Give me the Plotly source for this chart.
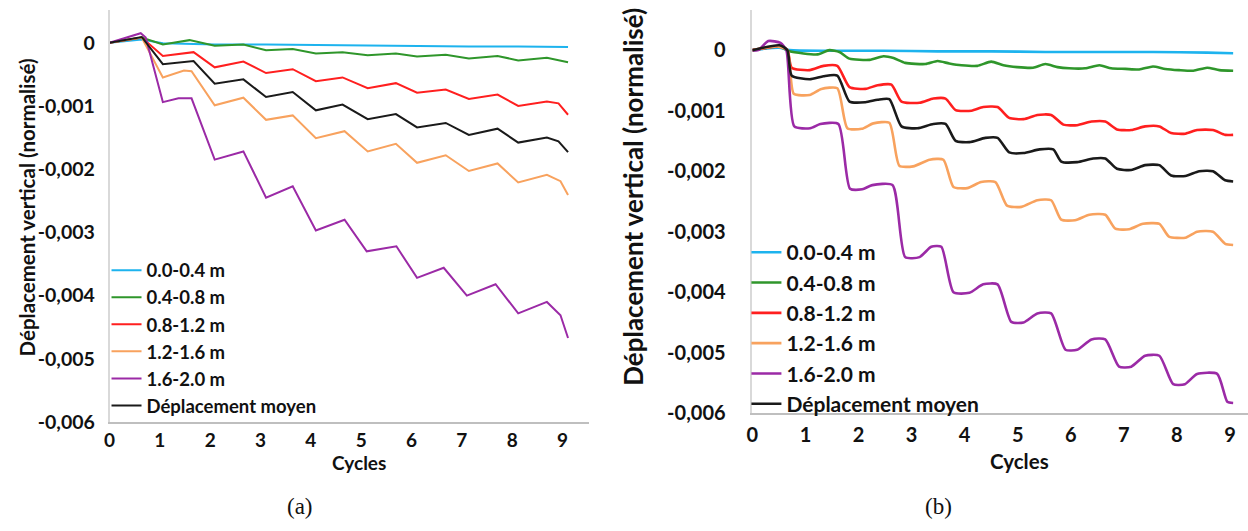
import plotly.graph_objects as go

# ---------------- data: panel (a) ----------------
a_cyan_x = [0, 0.64, 1.06, 2.09, 3.11, 4.10, 5.13, 6.11, 7.14, 8.12, 9.11]
a_cyan_y = [0, 0.00005, -0.00001, -0.00003, -0.00003, -0.00004, -0.00005, -0.00005, -0.00006, -0.00006, -0.00007]

a_green_x = [0, 0.64, 1.06, 1.59, 2.09, 2.66, 3.11, 3.64, 4.10, 4.63, 5.13, 5.69, 6.11, 6.68, 7.14, 7.71, 8.12, 8.69, 9.11]
a_green_y = [0, 0.00008, -0.00003, 0.00004, -0.00005, -0.00003, -0.00012, -0.00010, -0.00017, -0.00015,
             -0.00020, -0.00017, -0.00022, -0.00019, -0.00025, -0.00021, -0.00028, -0.00024, -0.00031]

a_red_x = [0, 0.64, 1.06, 1.67, 2.09, 2.66, 3.11, 3.64, 4.10, 4.63, 5.13, 5.69, 6.11, 6.68, 7.14, 7.71, 8.12, 8.69, 8.92, 9.11]
a_red_y = [0, 0.00008, -0.00021, -0.00015, -0.00039, -0.00030, -0.00048, -0.00042, -0.00061, -0.00055,
           -0.00072, -0.00064, -0.00079, -0.00074, -0.00089, -0.00082, -0.00100, -0.00093, -0.00096, -0.00114]

a_orange_x = [0, 0.64, 1.06, 1.48, 1.63, 2.09, 2.66, 3.11, 3.64, 4.10, 4.67, 5.13, 5.69, 6.11, 6.68, 7.14, 7.71, 8.12, 8.69, 8.96, 9.11]
a_orange_y = [0, 0.00008, -0.00055, -0.00044, -0.00045, -0.00099, -0.00087, -0.00122, -0.00115, -0.00151, -0.00140,
              -0.00172, -0.00160, -0.00190, -0.00178, -0.00203, -0.00191, -0.00221, -0.00209, -0.00219, -0.00241]

a_purple_x = [0, 0.62, 0.72, 1.06, 1.37, 1.63, 2.09, 2.66, 3.11, 3.64, 4.10, 4.67, 5.11, 5.70, 6.11, 6.64,
              7.10, 7.67, 8.12, 8.69, 8.96, 9.11]
a_purple_y = [0, 0.00015, 0.00008, -0.00094, -0.00088, -0.00088, -0.00185, -0.00172, -0.00245, -0.00227,
              -0.00297, -0.00280, -0.00330, -0.00322, -0.00372, -0.00356, -0.00400, -0.00382, -0.00428,
              -0.00410, -0.00431, -0.00467]

a_black_x = [0, 0.64, 1.06, 1.67, 2.09, 2.66, 3.11, 3.64, 4.10, 4.63, 5.13, 5.69, 6.11, 6.68, 7.14, 7.71, 8.12, 8.69, 8.92, 9.11]
a_black_y = [0, 0.00009, -0.00034, -0.00029, -0.00065, -0.00058, -0.00086, -0.00078, -0.00107, -0.00098,
             -0.00121, -0.00113, -0.00134, -0.00127, -0.00146, -0.00136, -0.00158, -0.00150, -0.00156, -0.00173]

# ---------------- data: panel (b) ----------------
b_cyan_x = [0, 0.50, 0.70, 1.45, 2.47, 3.49, 4.50, 5.52, 6.54, 7.55, 8.57, 9.06]
b_cyan_y = [0, 0.00004, 0, -0.00001, -0.00001, -0.00002, -0.00002, -0.00003, -0.00003, -0.00003, -0.00004, -0.00005]

b_green_x = [0, 0.51, 0.70, 1.23, 1.45, 1.64, 1.83, 2.21, 2.47, 2.66, 2.88, 3.26, 3.49, 3.71, 3.94, 4.24,
             4.50, 4.73, 4.99, 5.29, 5.52, 5.75, 5.97, 6.27, 6.54, 6.76, 7.03, 7.29, 7.55, 7.78, 8.04,
             8.31, 8.57, 8.80, 9.06]
b_green_y = [0, 0.00006, -0.00002, -0.00007, 0, -0.00003, -0.00014, -0.00016, -0.00010, -0.00013, -0.00021,
             -0.00023, -0.00018, -0.00022, -0.00025, -0.00026, -0.00019, -0.00025, -0.00028, -0.00029,
             -0.00023, -0.00028, -0.00030, -0.00030, -0.00025, -0.00030, -0.00031, -0.00032, -0.00027,
             -0.00031, -0.00033, -0.00034, -0.00029, -0.00033, -0.00034]

b_red_x = [0, 0.51, 0.66, 0.74, 1.08, 1.34, 1.60, 1.83, 2.13, 2.36, 2.62, 2.81, 3.15, 3.41, 3.64, 3.83,
           4.13, 4.35, 4.62, 4.84, 5.11, 5.37, 5.63, 5.86, 6.12, 6.39, 6.65, 6.87, 7.14, 7.40, 7.67,
           7.89, 8.16, 8.38, 8.68, 8.91, 9.06]
b_red_y = [0, 0.00006, 0, -0.00029, -0.00033, -0.00026, -0.00026, -0.00061, -0.00064, -0.00058, -0.00057,
           -0.00085, -0.00087, -0.00080, -0.00080, -0.00099, -0.00100, -0.00094, -0.00094, -0.00112,
           -0.00114, -0.00107, -0.00107, -0.00123, -0.00124, -0.00118, -0.00118, -0.00131, -0.00132,
           -0.00126, -0.00126, -0.00137, -0.00138, -0.00132, -0.00132, -0.00140, -0.00140]

b_orange_x = [0, 0.47, 0.66, 0.78, 1.08, 1.30, 1.60, 1.79, 2.06, 2.28, 2.58, 2.77, 3.03, 3.34, 3.60, 3.79,
              4.05, 4.31, 4.58, 4.80, 5.07, 5.37, 5.63, 5.82, 6.08, 6.35, 6.65, 6.84, 7.10, 7.36, 7.67,
              7.85, 8.16, 8.38, 8.68, 8.91, 9.06]
b_orange_y = [0, 0.00006, 0, -0.00072, -0.00074, -0.00064, -0.00063, -0.00129, -0.00130, -0.00121, -0.00120,
              -0.00191, -0.00192, -0.00181, -0.00181, -0.00226, -0.00228, -0.00218, -0.00218, -0.00257,
              -0.00259, -0.00248, -0.00248, -0.00280, -0.00281, -0.00272, -0.00272, -0.00295, -0.00296,
              -0.00287, -0.00287, -0.00308, -0.00310, -0.00300, -0.00300, -0.00320, -0.00322]

b_purple_x = [0, 0.11, 0.30, 0.53, 0.64, 0.79, 1.09, 1.28, 1.62, 1.84, 2.07, 2.26, 2.64, 2.88, 3.15, 3.37,
              3.56, 3.79, 4.09, 4.35, 4.62, 4.88, 5.11, 5.37, 5.63, 5.90, 6.12, 6.39, 6.65, 6.91, 7.14,
              7.40, 7.67, 7.93, 8.15, 8.38, 8.76, 8.95, 9.06]
b_purple_y = [0, 0, 0.00015, 0.00012, 0, -0.00126, -0.00129, -0.00122, -0.00122, -0.00229, -0.00230,
              -0.00223, -0.00223, -0.00342, -0.00342, -0.00325, -0.00325, -0.00400, -0.00401, -0.00387,
              -0.00387, -0.00449, -0.00450, -0.00435, -0.00435, -0.00495, -0.00495, -0.00478, -0.00478,
              -0.00523, -0.00523, -0.00505, -0.00505, -0.00552, -0.00552, -0.00535, -0.00535, -0.00581,
              -0.00583]

b_black_x = [0, 0.51, 0.66, 0.74, 1.08, 1.34, 1.60, 1.83, 2.13, 2.36, 2.58, 2.81, 3.11, 3.41, 3.64, 3.83,
             4.09, 4.39, 4.62, 4.84, 5.11, 5.41, 5.67, 5.82, 6.12, 6.42, 6.65, 6.87, 7.14, 7.40, 7.67,
             7.89, 8.16, 8.42, 8.68, 8.91, 9.06]
b_black_y = [0, 0.00008, 0, -0.00042, -0.00048, -0.00043, -0.00042, -0.00085, -0.00086, -0.00082, -0.00081,
             -0.00126, -0.00129, -0.00122, -0.00122, -0.00150, -0.00152, -0.00145, -0.00145, -0.00169,
             -0.00170, -0.00164, -0.00164, -0.00184, -0.00185, -0.00179, -0.00179, -0.00196, -0.00198,
             -0.00190, -0.00190, -0.00207, -0.00208, -0.00200, -0.00200, -0.00215, -0.00217]

series_names = ["0.0-0.4 m", "0.4-0.8 m", "0.8-1.2 m", "1.2-1.6 m", "1.6-2.0 m", "Déplacement moyen"]
series_colors = ["#1DB3EE", "#2F962B", "#FF1F1F", "#F8A25E", "#9B2AA6", "#1A1A1A"]

y_tick_vals = [0, -0.001, -0.002, -0.003, -0.004, -0.005, -0.006]
y_tick_text = ["0", "-0,001", "-0,002", "-0,003", "-0,004", "-0,005", "-0,006"]
x_tick_vals = [0, 1, 2, 3, 4, 5, 6, 7, 8, 9]
x_tick_text = ["0", "1", "2", "3", "4", "5", "6", "7", "8", "9"]

panel_a = [(a_cyan_x, a_cyan_y), (a_green_x, a_green_y), (a_red_x, a_red_y),
           (a_orange_x, a_orange_y), (a_purple_x, a_purple_y), (a_black_x, a_black_y)]
panel_b = [(b_cyan_x, b_cyan_y), (b_green_x, b_green_y), (b_red_x, b_red_y),
           (b_orange_x, b_orange_y), (b_purple_x, b_purple_y), (b_black_x, b_black_y)]

W, H = 1248, 531
FONT = "Lato"


def px_x(p):
    return p / W


def px_y(p):
    return 1 - p / H


fig = go.Figure()

for i, (xs, ys) in enumerate(panel_a):
    fig.add_trace(go.Scatter(
        x=xs, y=ys, mode="lines", name=series_names[i],
        line=dict(color=series_colors[i], width=2),
        xaxis="x", yaxis="y", legend="legend", legendgroup="a%d" % i,
    ))

for i, (xs, ys) in enumerate(panel_b):
    fig.add_trace(go.Scatter(
        x=xs, y=ys, mode="lines", name=series_names[i],
        line=dict(color=series_colors[i], width=2.6, shape="spline", smoothing=0.6),
        xaxis="x2", yaxis="y2", legend="legend2", legendgroup="b%d" % i,
    ))


def bold(size):
    return dict(family=FONT, size=size, color="#111111", weight="bold")


common_x = dict(showgrid=False, zeroline=False, showline=True, linecolor="#BFBFBF", linewidth=1.5,
                ticks="", tickvals=x_tick_vals, ticktext=x_tick_text)
common_y = dict(showgrid=False, zeroline=False, showline=True, linecolor="#D9D9D9", linewidth=1.5,
                ticks="", tickvals=y_tick_vals, ticktext=y_tick_text)

fig.update_layout(
    width=W, height=H,
    margin=dict(l=0, r=0, t=0, b=0),
    paper_bgcolor="white", plot_bgcolor="white",
    xaxis=dict(domain=[px_x(104), px_x(586)], range=[0, 9.53], anchor="y",
               tickfont=bold(19), ticklabelstandoff=0, **common_x),
    yaxis=dict(domain=[px_y(431), px_y(10)], range=[-0.006, 0.00052], anchor="x",
               tickfont=bold(19.5), ticklabelstandoff=9, **common_y),
    xaxis2=dict(domain=[px_x(750), 1.0], range=[0, 9.34], anchor="y2",
                tickfont=bold(20), ticklabelstandoff=3, **common_x),
    yaxis2=dict(domain=[px_y(422), px_y(10)], range=[-0.006, 0.000667], anchor="x2",
                tickfont=bold(20), ticklabelstandoff=21, **common_y),
    legend=dict(x=px_x(101), y=px_y(257), xanchor="left", yanchor="top",
                bgcolor="rgba(0,0,0,0)", font=bold(18.5), tracegroupgap=0,
                traceorder="grouped"),
    legend2=dict(x=px_x(744), y=px_y(237), xanchor="left", yanchor="top",
                 bgcolor="rgba(0,0,0,0)", font=bold(21), tracegroupgap=0,
                 traceorder="grouped"),
    showlegend=True,
)

annotations = [
    dict(text="Déplacement vertical (normalisé)", x=px_x(21), y=px_y(212), textangle=-90,
         font=bold(20.5)),
    dict(text="Déplacement vertical (normalisé)", x=px_x(630), y=px_y(201), textangle=-90,
         font=bold(26)),
    dict(text="Cycles", x=px_x(355), y=px_y(472), font=bold(19)),
    dict(text="Cycles", x=px_x(1018), y=px_y(471), font=bold(20.5)),
    dict(text="(a)", x=px_x(295), y=px_y(517),
         font=dict(family="Liberation Serif", size=23, color="#111111")),
    dict(text="(b)", x=px_x(937), y=px_y(517),
         font=dict(family="Liberation Serif", size=23, color="#111111")),
]
for a in annotations:
    a.update(xref="paper", yref="paper", showarrow=False, xanchor="center", yanchor="middle")
fig.update_layout(annotations=annotations)

fig.write_html("out.html")
